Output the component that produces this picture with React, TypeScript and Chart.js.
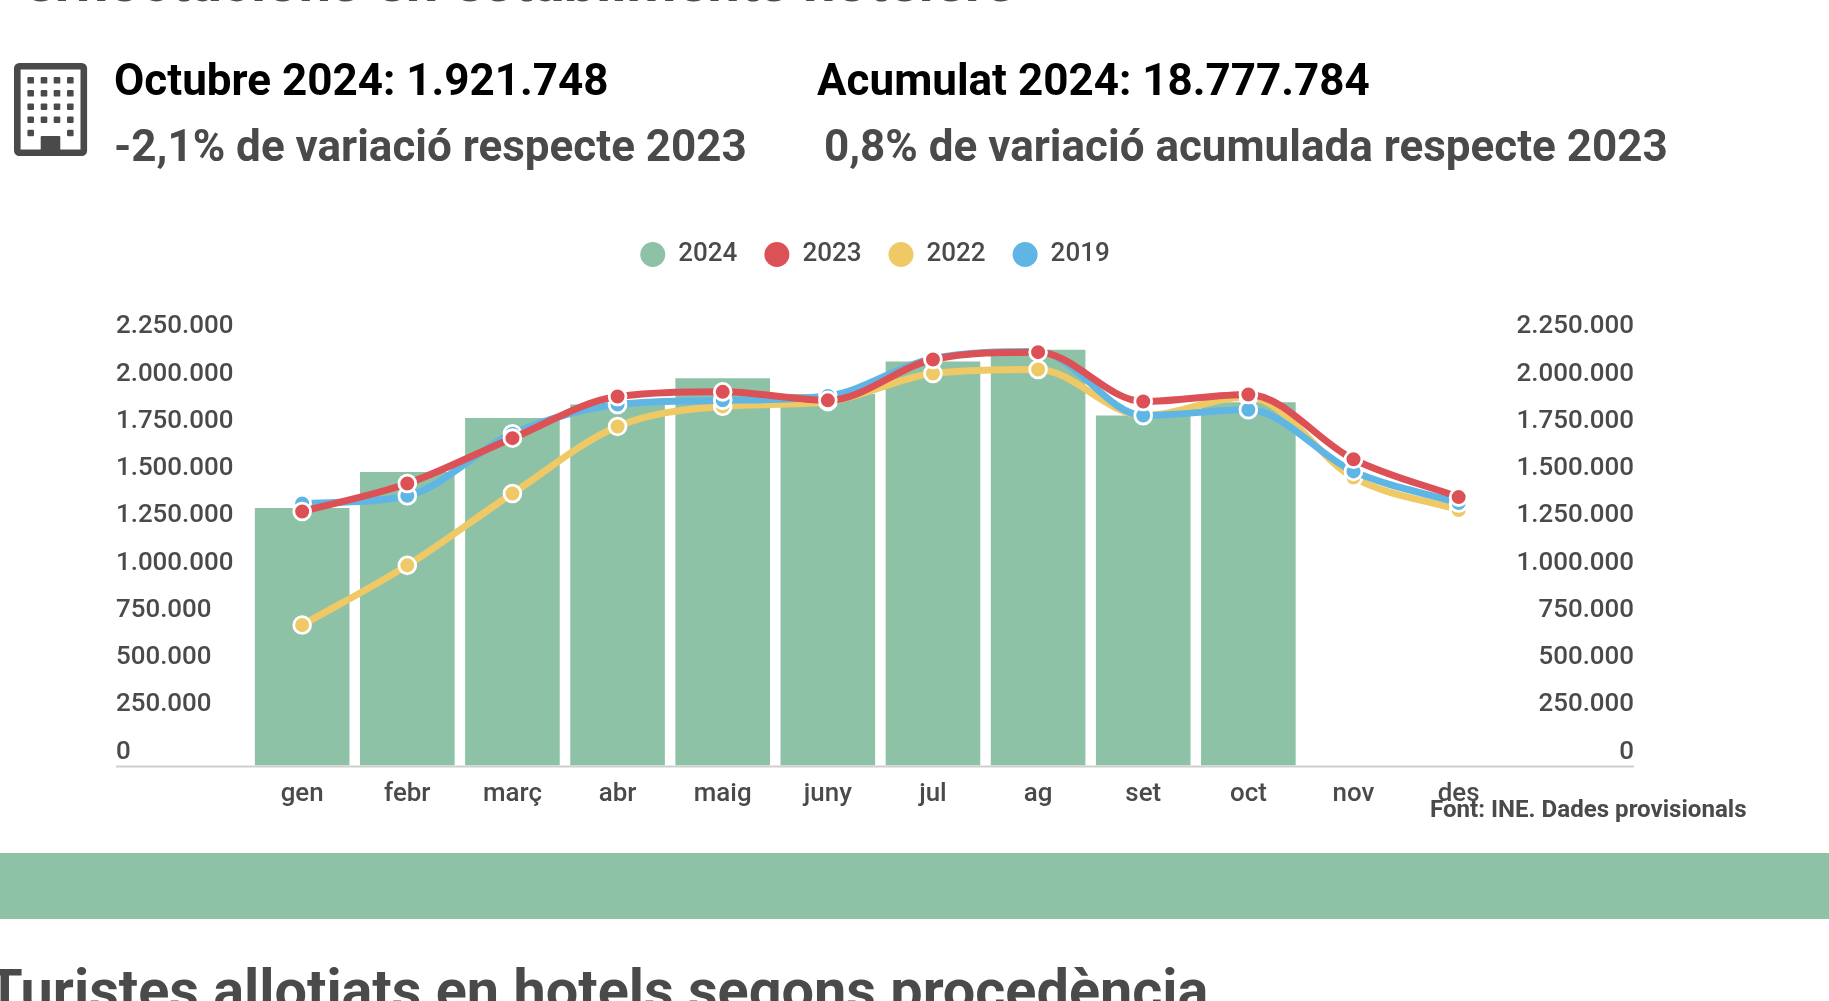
import React, { useEffect, useRef } from "react";
import { Chart, registerables } from "chart.js";

Chart.register(...registerables);

const months = ["gen", "febr", "març", "abr", "maig", "juny", "jul", "ag", "set", "oct", "nov", "des"];
const values2024 = [1363000, 1553000, 1838000, 1910000, 2049000, 1966000, 2137000, 2200000, 1852000, 1921748, null, null];
const values2023 = [1344000, 1492000, 1732000, 1952000, 1977000, 1932000, 2148000, 2187000, 1926000, 1963000, 1620000, 1420000];
const values2022 = [743000, 1059000, 1439000, 1794000, 1900000, 1925000, 2074000, 2095000, 1852000, 1950000, 1524000, 1352000];
const values2019 = [1386000, 1427000, 1755000, 1910000, 1932000, 1955000, 2154000, 2190000, 1852000, 1882000, 1556000, 1389000];
const yTicks = [0, 250000, 500000, 750000, 1000000, 1250000, 1500000, 1750000, 2000000, 2250000];

const GREEN = "#8EC2A7";
const RED = "#DC5155";
const YELLOW = "#EFC965";
const BLUE = "#5FB6E5";
const TEXT = "#4a4a4a";
const FONT = "Roboto";

const Y_MAX = 2582000;
const LABEL_SHIFT = 71000;

const fmt = (v: number) => String(v).replace(/\B(?=(\d{3})+(?!\d))/g, ".");

const line = (label: string, data: number[], color: string, order: number) => ({
  type: "line" as const,
  label,
  data,
  order,
  yAxisID: "y",
  borderColor: color,
  backgroundColor: color,
  borderWidth: 7,
  cubicInterpolationMode: "monotone" as const,
  pointRadius: 8.4,
  pointBorderWidth: 2.8,
  pointBorderColor: "#ffffff",
  pointBackgroundColor: color,
  clip: false as const,
});

const labelAxis = (position: "left" | "right", width: number) => ({
  position,
  min: -LABEL_SHIFT,
  max: Y_MAX - LABEL_SHIFT,
  grid: { display: false, drawTicks: false },
  border: { display: false },
  afterBuildTicks: (s: any) => {
    s.ticks = yTicks.map((value) => ({ value }));
  },
  afterFit: (s: any) => {
    s.width = width;
  },
  ticks: {
    crossAlign: "far" as const,
    color: TEXT,
    padding: 0,
    font: { family: FONT, size: 25.9, weight: 500 },
    callback: (v: any) => fmt(Number(v)),
  },
});

const baseline = {
  id: "baseline",
  beforeDatasetsDraw(chart: any) {
    const y = chart.scales.y.getPixelForValue(0);
    const { ctx } = chart;
    ctx.save();
    ctx.strokeStyle = "#cfcfcf";
    ctx.lineWidth = 2;
    ctx.beginPath();
    ctx.moveTo(116, y + 1);
    ctx.lineTo(1634, y + 1);
    ctx.stroke();
    ctx.restore();
  },
};

const text = (center: number, size: number, lh = 70) => ({
  position: "absolute" as const,
  top: center - lh / 2,
  lineHeight: `${lh}px`,
  fontSize: size,
  fontFamily: FONT,
  whiteSpace: "pre" as const,
  margin: 0,
});

const windowCols = [30.7, 44, 57, 70.3];
const windowRows = [80.3, 93.3, 106.7, 119.7];

export default function App() {
  const ref = useRef<HTMLCanvasElement>(null);
  useEffect(() => {
    const chart = new Chart(ref.current as HTMLCanvasElement, {
      type: "bar",
      data: {
        labels: months,
        datasets: [
          {
            type: "bar",
            label: "2024",
            data: values2024,
            order: 4,
            yAxisID: "y",
            backgroundColor: GREEN,
            borderWidth: 0,
            barPercentage: 0.9,
            categoryPercentage: 1,
          },
          line("2023", values2023, RED, 1),
          line("2022", values2022, YELLOW, 3),
          line("2019", values2019, BLUE, 2),
        ] as any,
      },
      plugins: [baseline],
      options: {
        responsive: false,
        animation: false,
        layout: { padding: { left: 116, right: 195, top: 214.5, bottom: 175.5 } },
        plugins: {
          tooltip: { enabled: false },
          legend: {
            position: "top",
            labels: {
              usePointStyle: true,
              pointStyle: "circle",
              pointStyleWidth: 25,
              boxHeight: 17.7,
              padding: 27,
              color: TEXT,
              font: { family: FONT, size: 26, weight: 500 },
              generateLabels: (c: any) =>
                c.data.datasets.map((d: any, i: number) => ({
                  text: d.label,
                  fillStyle: d.backgroundColor,
                  strokeStyle: d.backgroundColor,
                  lineWidth: 0,
                  pointStyle: "circle",
                  datasetIndex: i,
                  fontColor: TEXT,
                })),
            },
          },
        },
        scales: {
          x: {
            grid: { display: false, drawTicks: false },
            border: { display: false },
            afterFit: (s: any) => {
              s.height = 60;
            },
            ticks: {
              color: TEXT,
              padding: 13,
              autoSkip: false,
              maxRotation: 0,
              font: { family: FONT, size: 25.9, weight: 500 },
            },
          },
          y: { display: false, min: 0, max: Y_MAX },
          yL: labelAxis("left", 133.6),
          yR: labelAxis("right", 122.8),
        },
      } as any,
    });
    return () => chart.destroy();
  }, []);

  return (
    <div style={{ position: "absolute", left: 0, top: 0, width: 1829, height: 1001, overflow: "hidden", background: "#fff" }}>
      <canvas ref={ref} width={1829} height={1001} style={{ position: "absolute", left: 0, top: 0 }} />
      <div style={{ ...text(-17.7, 57.6), left: -13, fontWeight: 700, color: TEXT }}>Pernoctacions en establiments hotelers</div>
      <svg width={110} height={120} style={{ position: "absolute", left: 0, top: 50 }} viewBox="0 50 110 120">
        <rect x={17.3} y={66.3} width={66.5} height={86.5} rx={2} fill="none" stroke={TEXT} strokeWidth={6.6} />
        {windowRows.flatMap((y) =>
          windowCols.map((x) => <rect key={`${x}-${y}`} x={x - 3.3} y={y - 3.3} width={6.6} height={6.6} rx={1.2} fill={TEXT} />),
        )}
        <rect x={27.4} y={129.7} width={6.6} height={6.6} rx={1.2} fill={TEXT} />
        <rect x={67} y={129.7} width={6.6} height={6.6} rx={1.2} fill={TEXT} />
        <rect x={40.7} y={136} width={19.6} height={18} rx={1} fill={TEXT} />
      </svg>
      <div style={{ ...text(80, 44), left: 114, fontWeight: 700, color: "#000" }}>Octubre 2024: 1.921.748</div>
      <div style={{ ...text(80, 44), left: 817, fontWeight: 700, color: "#000" }}>Acumulat 2024: 18.777.784</div>
      <div style={{ ...text(146, 44), left: 114, fontWeight: 700, color: TEXT }}>-2,1% de variació respecte 2023</div>
      <div style={{ ...text(146, 44), left: 824, fontWeight: 700, color: TEXT }}>0,8% de variació acumulada respecte 2023</div>
      <div style={{ ...text(809, 24.1), left: 1430, fontWeight: 700, color: TEXT }}>Font: INE. Dades provisionals</div>
      <div style={{ position: "absolute", left: 0, top: 853, width: 1829, height: 66, background: GREEN }} />
      <div style={{ ...text(991.3, 57.6), left: -13, fontWeight: 700, color: TEXT }}>Turistes allotjats en hotels segons procedència</div>
    </div>
  );
}
